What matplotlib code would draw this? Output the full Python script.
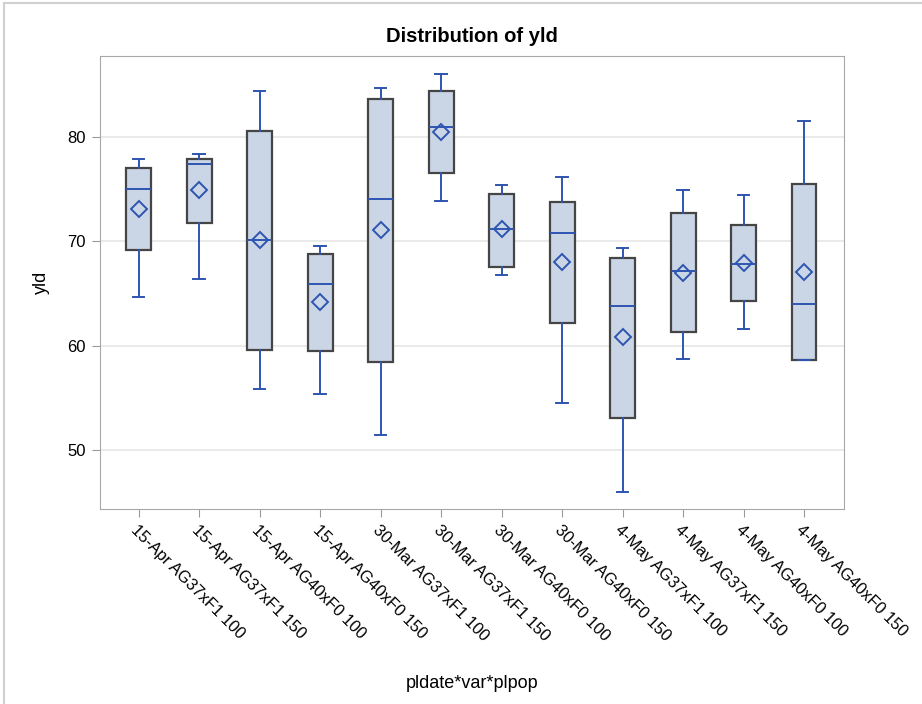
import matplotlib.pyplot as plt
from matplotlib.lines import Line2D

plt.rcParams['font.family'] = ['Liberation Sans', 'DejaVu Sans']

labels = ['15-Apr AG37xF1 100', '15-Apr AG37xF1 150', '15-Apr AG40xF0 100',
          '15-Apr AG40xF0 150', '30-Mar AG37xF1 100', '30-Mar AG37xF1 150',
          '30-Mar AG40xF0 100', '30-Mar AG40xF0 150', '4-May AG37xF1 100',
          '4-May AG37xF1 150', '4-May AG40xF0 100', '4-May AG40xF0 150']
whislo = [64.7, 66.4, 55.8, 55.4, 51.4, 73.9, 66.8, 54.5, 46.0, 58.7, 61.6, 58.6]
q1 = [69.2, 71.8, 59.6, 59.5, 58.4, 76.6, 67.6, 62.2, 53.1, 61.3, 64.3, 58.6]
med = [75.0, 77.4, 70.1, 65.9, 74.1, 81.0, 71.2, 70.8, 63.8, 67.2, 67.8, 64.0]
q3 = [77.1, 77.9, 80.6, 68.8, 83.7, 84.4, 74.6, 73.8, 68.4, 72.7, 71.6, 75.5]
whishi = [77.9, 78.4, 84.4, 69.6, 84.7, 86.1, 75.4, 76.2, 69.4, 74.9, 74.5, 81.6]
means = [73.1, 74.9, 70.1, 64.2, 71.1, 80.5, 71.2, 68.0, 60.8, 67.0, 67.9, 67.1]

blue = '#2E55B0'
stats = []
for i in range(len(labels)):
    stats.append(dict(label=labels[i], whislo=whislo[i], q1=q1[i], med=med[i],
                      q3=q3[i], whishi=whishi[i], mean=means[i], fliers=[]))

fig = plt.figure(figsize=(9.22, 7.04), dpi=100)
ax = fig.add_axes([100/922, 1 - 509/704, (844-100)/922, (509-56)/704])

ax.bxp(stats, positions=range(len(labels)), widths=0.41, showmeans=True,
       patch_artist=True,
       boxprops=dict(facecolor='#CAD5E5', edgecolor='#454545', linewidth=1.6),
       medianprops=dict(color=blue, linewidth=1.4),
       whiskerprops=dict(color=blue, linewidth=1.4),
       capprops=dict(color=blue, linewidth=1.4),
       capwidths=0.19,
       meanprops=dict(marker='D', markerfacecolor='none', markeredgecolor=blue,
                      markeredgewidth=1.4, markersize=8.5))

ax.set_xlim(-0.64, 11.66)
ax.set_ylim(44.33, 87.8)
ax.set_yticks([50, 60, 70, 80])
ax.yaxis.grid(True, color='#E6E6E6', linewidth=1.2)
ax.set_axisbelow(True)
for s in ax.spines.values():
    s.set_color('#A8A8A8')
ax.tick_params(colors='#9A9A9A', labelcolor='black', labelsize=12, length=6, pad=4)
ax.set_xticks(range(len(labels)))
ax.set_xticklabels(labels, rotation=-45, ha='left', va='top', rotation_mode='anchor',
                   fontsize=11.8)
ax.set_ylabel('yld', fontsize=13, labelpad=13)
ax.set_xlabel('pldate*var*plpop', fontsize=13, labelpad=22)
ax.set_title('Distribution of yld', fontsize=14.5, fontweight='bold', pad=10)

fig.add_artist(Line2D([4/922, 4/922], [0, 1 - 3/704], color='#D0D0D0', lw=1.5))
fig.add_artist(Line2D([4/922, 1], [1 - 3/704, 1 - 3/704], color='#D0D0D0', lw=1.5))

fig.savefig('out.png', dpi=100)
